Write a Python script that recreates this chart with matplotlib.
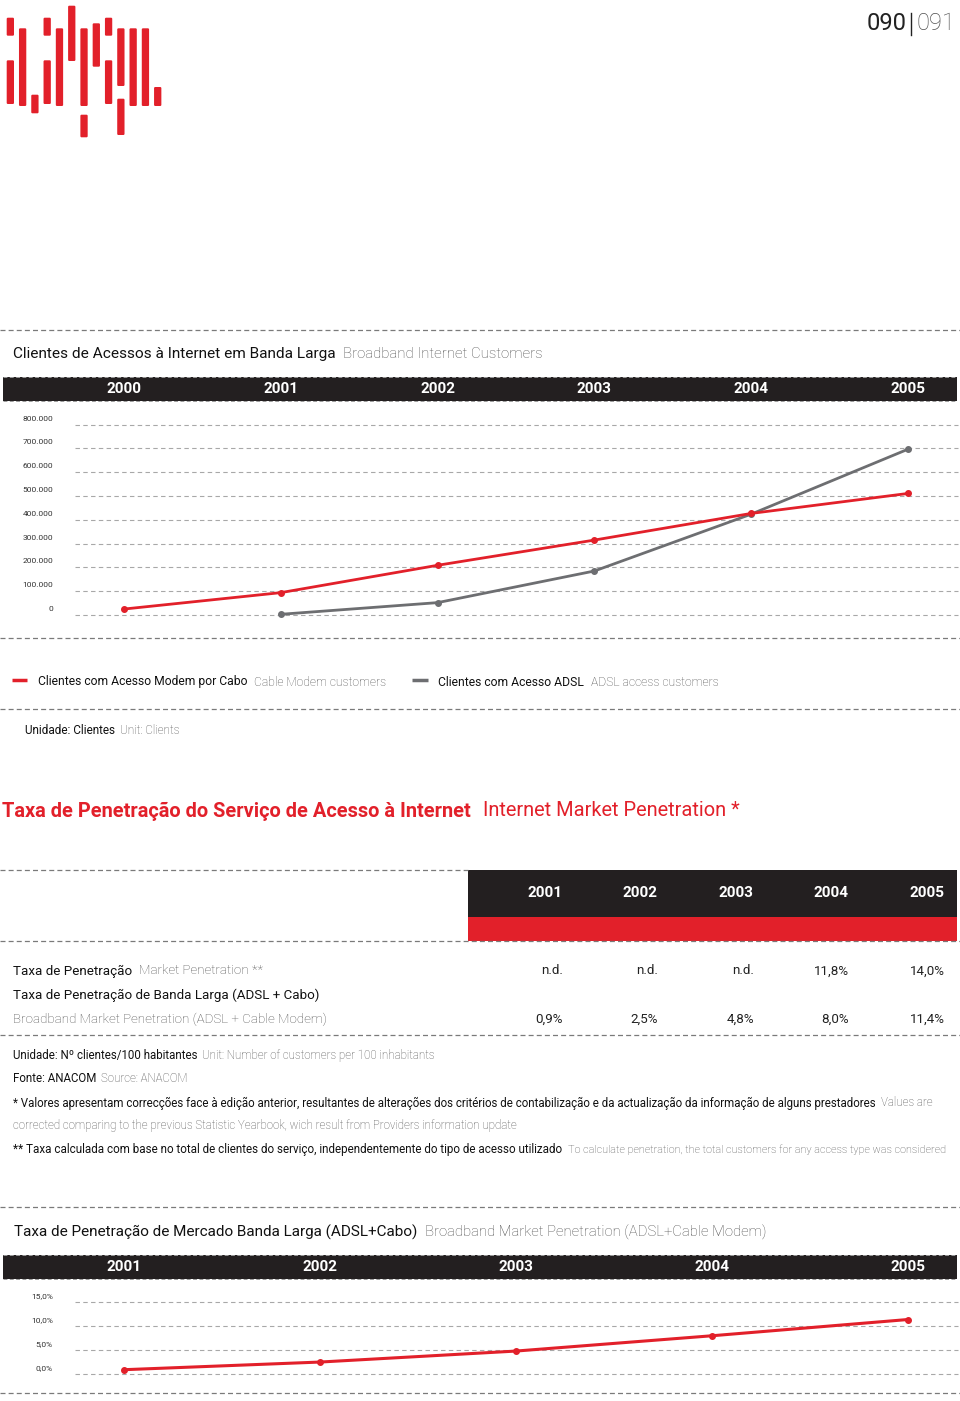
import matplotlib
matplotlib.use('Agg')
import matplotlib.pyplot as plt
from matplotlib.patches import Rectangle, FancyBboxPatch
from matplotlib.transforms import blended_transform_factory

# ---- data ----
client_years = [2000, 2001, 2002, 2003, 2004, 2005]
cable_modem = [25000, 94000, 209000, 315000, 427000, 511000]
adsl_years = [2001, 2002, 2003, 2004, 2005]
adsl = [3000, 52000, 185000, 424000, 697000]
client_ticks = [0, 100000, 200000, 300000, 400000, 500000, 600000, 700000, 800000]

pen_years = [2001, 2002, 2003, 2004, 2005]
market_pen = ['n.d.', 'n.d.', 'n.d.', '11,8%', '14,0%']
broadband_pen = [0.9, 2.5, 4.8, 8.0, 11.4]
pen_ticks = [0, 5, 10, 15]

RED = '#e2202a'
DARK = '#231f20'
GREY_LINE = '#6d6e71'
GREY_TXT = '#505050'
GRID = '#a8a8a8'
SEP = '#7a7a7a'

plt.rcParams['font.family'] = ['Roboto', 'DejaVu Sans']

W, H = 960, 1401
fig = plt.figure(figsize=(W / 100, H / 100), dpi=100)
over = fig.add_axes([0, 0, 1, 1])
over.set_xlim(0, W)
over.set_ylim(H, 0)
over.axis('off')
renderer = fig.canvas.get_renderer()


def px_axes(x0, y0, x1, y1):
	return fig.add_axes([x0 / W, 1 - y1 / H, (x1 - x0) / W, (y1 - y0) / H])


def dashed(y, x0=0, x1=W, color=SEP, lw=0.9):
	over.plot([x0, x1], [y, y], color=color, lw=lw, dashes=(4, 2.5), solid_capstyle='butt')


def rich(x, y, parts, size=10, gap=7):
	# draws consecutive text pieces: (text, colour, weight[, size])
	for p in parts:
		s, c, w = p[:3]
		fsz = p[3] if len(p) > 3 else size
		t = over.text(x, y, s, color=c, fontsize=fsz, fontweight=w, ha='left', va='center')
		x += t.get_window_extent(renderer).width + gap
	return x


# ---- logo ----
logo = [(0, 17.7, 35.7), (0, 60.3, 104), (1, 28.3, 106), (2, 94.7, 113.3),
		(3, 17.7, 35.7), (3, 60.3, 104), (4, 28.3, 106), (5, 5.7, 61),
		(6, 28.3, 106), (6, 114.7, 137.3), (7, 23.3, 66.7), (8, 17.7, 35.7),
		(8, 60.3, 104), (9, 28.3, 86), (9, 98.7, 135), (10, 28.3, 106),
		(11, 28.3, 106), (12, 87, 106)]
for col, y0, y1 in logo:
	over.add_patch(FancyBboxPatch((6.7 + col * 12.28, y0), 7.3, y1 - y0,
		boxstyle='round,pad=0,rounding_size=1.2', fc=RED, ec='none'))

# page number
x = rich(867, 24, [('090', '#222222', 'normal')], size=17, gap=3)
over.plot([x + 1, x + 1], [13, 35], color='#222222', lw=1)
rich(x + 6, 24, [('091', GREY_TXT, 'light')], size=17)

# ---- section 1: broadband customers ----
dashed(330)
rich(13, 354, [('Clientes de Acessos à Internet em Banda Larga', '#111111', 'normal', 11.1),
			   ('Broadband Internet Customers', GREY_TXT, 'light', 10.8)], gap=7)

over.add_patch(Rectangle((3, 377), 954, 24, fc=DARK, ec='none'))
dashed(377, 3, 957, color='#9a9a9a', lw=0.7)
dashed(401, 3, 957, color='#9a9a9a', lw=0.7)

ax1 = px_axes(75, 424.7, 958, 615)
s1 = (908 - 124) / 5
ax1.set_xlim(2000 - (124 - 75) / s1, 2005 + (958 - 908) / s1)
ax1.set_ylim(0, 800000)
ax1.axis('off')
for v in client_ticks:
	ax1.axhline(v, color=GRID, lw=0.8, dashes=(4, 3), zorder=0, clip_on=False)
	lab = '0' if v == 0 else '{:,}'.format(v).replace(',', '.')
	ax1.annotate(lab, xy=(0, v), xycoords=('axes fraction', 'data'), xytext=(-22, 6),
				 textcoords='offset pixels', ha='right', va='center', fontsize=6, color='#333333')
ax1.plot(client_years, cable_modem, color=RED, lw=2, marker='o', ms=4, clip_on=False, zorder=3)
ax1.plot(adsl_years, adsl, color=GREY_LINE, lw=2, marker='o', ms=4, clip_on=False, zorder=2)

tr1 = blended_transform_factory(ax1.transData, over.transData)
for yr in client_years:
	over.text(yr, 389, str(yr), transform=tr1, color='white', fontsize=11,
			  fontweight='bold', ha='center', va='center')

dashed(638)
over.plot([12, 27], [680, 680], color=RED, lw=2.5, solid_capstyle='butt')
rich(38, 682, [('Clientes com Acesso Modem por Cabo', '#111111', 'normal'),
			   ('Cable Modem customers', GREY_TXT, 'light')], size=8.7)
over.plot([412, 428], [680, 680], color=GREY_LINE, lw=2.5, solid_capstyle='butt')
rich(438, 682, [('Clientes com Acesso ADSL', '#111111', 'normal'),
				('ADSL access customers', GREY_TXT, 'light')], size=8.7)
dashed(709)
rich(25, 730, [('Unidade: Clientes', '#111111', 'normal'),
			   ('Unit: Clients', GREY_TXT, 'light')], size=8.5, gap=5)

# ---- section 2: penetration table ----
rich(2, 811, [('Taxa de Penetração do Serviço de Acesso à Internet', RED, 'bold'),
			  ('Internet Market Penetration *', RED, 'normal')], size=14.4, gap=12)

dashed(870, 0, 468)
over.add_patch(Rectangle((468, 870), 489, 47, fc=DARK, ec='none'))
over.add_patch(Rectangle((468, 917), 489, 24, fc=RED, ec='none'))
dashed(941)

col_right = [563, 658, 754, 849, 945]
for yr, xr in zip(pen_years, col_right):
	over.text(xr - 18, 893, str(yr), color='white', fontsize=11, fontweight='bold',
			  ha='center', va='center')

rich(13, 971, [('Taxa de Penetração', '#111111', 'normal'),
			   ('Market Penetration **', GREY_TXT, 'light')], size=9.6)
rich(13, 995, [('Taxa de Penetração de Banda Larga (ADSL + Cabo)', '#111111', 'normal')], size=9.6)
rich(13, 1019, [('Broadband Market Penetration (ADSL + Cable Modem)', GREY_TXT, 'light')], size=9.6)
for val, xr in zip(market_pen, col_right):
	over.text(xr, 971, val, color='#222222', fontsize=9.6, ha='right', va='center')
for val, xr in zip(broadband_pen, col_right):
	over.text(xr, 1019, '{:.1f}%'.format(val).replace('.', ','), color='#222222',
			  fontsize=9.6, ha='right', va='center')
dashed(1035)

fs = 8.3
rich(13, 1055, [('Unidade: Nº clientes/100 habitantes', '#111111', 'normal'),
				('Unit: Number of customers per 100 inhabitants', GREY_TXT, 'light')], size=fs, gap=5)
rich(13, 1079, [('Fonte: ANACOM', '#111111', 'normal'),
				('Source: ANACOM', GREY_TXT, 'light')], size=fs, gap=5)
rich(13, 1103, [('* Valores apresentam correcções face à edição anterior, resultantes de alterações dos critérios '
				 'de contabilização e da actualização da informação de alguns prestadores', '#111111', 'normal'),
				('Values are', GREY_TXT, 'light')], size=fs, gap=5)
rich(13, 1126, [('corrected comparing to the previous Statistic Yearbook, wich result from Providers information update',
				 GREY_TXT, 'light')], size=fs)
rich(13, 1150, [('** Taxa calculada com base no total de clientes do serviço, independentemente do tipo de acesso utilizado',
				 '#111111', 'normal', 8.35),
				('To calculate penetration, the total customers for any access type was considered', GREY_TXT, 'light', 7.85)],
	 gap=6)
dashed(1207)

# ---- section 3: broadband penetration chart ----
rich(14, 1232, [('Taxa de Penetração de Mercado Banda Larga (ADSL+Cabo)', '#111111', 'normal', 10.95),
				('Broadband Market Penetration (ADSL+Cable Modem)', GREY_TXT, 'light', 10.75)], gap=8)

over.add_patch(Rectangle((3, 1255), 954, 24, fc=DARK, ec='none'))
dashed(1255, 3, 957, color='#9a9a9a', lw=0.7)
dashed(1279, 3, 957, color='#9a9a9a', lw=0.7)

ax3 = px_axes(75, 1302.3, 958, 1374)
s3 = (908 - 124) / 4
ax3.set_xlim(2001 - (124 - 75) / s3, 2005 + (958 - 908) / s3)
ax3.set_ylim(0, 15)
ax3.axis('off')
for v in pen_ticks:
	ax3.axhline(v, color=GRID, lw=0.8, dashes=(4, 3), zorder=0, clip_on=False)
	ax3.annotate('{:.1f}%'.format(v).replace('.', ','), xy=(0, v), xycoords=('axes fraction', 'data'),
				 xytext=(-22, 6), textcoords='offset pixels', ha='right', va='center',
				 fontsize=6, color='#333333')
ax3.plot(pen_years, broadband_pen, color=RED, lw=2.2, marker='o', ms=4, clip_on=False, zorder=3)

tr3 = blended_transform_factory(ax3.transData, over.transData)
for yr in pen_years:
	over.text(yr, 1267, str(yr), transform=tr3, color='white', fontsize=11,
			  fontweight='bold', ha='center', va='center')

dashed(1393)

fig.savefig('out.png', dpi=100)
